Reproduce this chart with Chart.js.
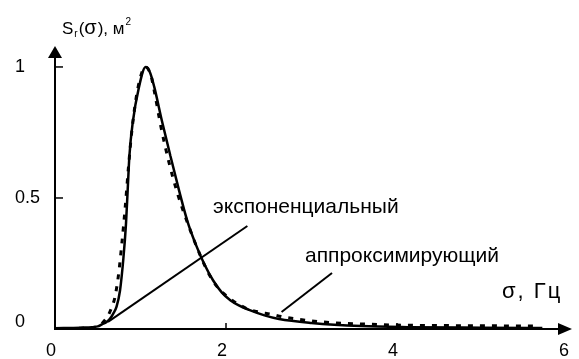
<!DOCTYPE html>
<html>
<head>
<meta charset="utf-8">
<script src="https://cdn.jsdelivr.net/npm/chart.js@4/dist/chart.umd.min.js"></script>
<style>
    html, body { margin: 0; padding: 0; background: #ffffff; }
    #wrap { width: 579px; height: 359px; }
</style>
</head>
<body>
<div id="wrap"><canvas id="spectrChart" width="579" height="359"></canvas></div>
<script>
// экспоненциальный спектр (сплошная линия)
const sigmaExp = [0, 0.3, 0.5, 0.55, 0.6, 0.64, 0.68, 0.72, 0.76, 0.8, 0.83, 0.85, 0.87, 0.91, 0.98, 1.06, 1.11, 1.16, 1.25, 1.35, 1.45, 1.55, 1.65, 1.75, 1.85, 1.95, 2.05, 2.15, 2.27, 2.45, 2.62, 3.0, 3.58, 4.13, 5.0, 5.7];
const valExp = [0.003, 0.005, 0.01, 0.018, 0.026, 0.038, 0.058, 0.085, 0.146, 0.27, 0.40, 0.53, 0.66, 0.79, 0.92, 1.0, 0.98, 0.925, 0.795, 0.66, 0.53, 0.41, 0.32, 0.245, 0.185, 0.14, 0.11, 0.09, 0.073, 0.052, 0.038, 0.023, 0.011, 0.007, 0.005, 0.004];

// аппроксимирующий спектр (пунктир)
const sigmaApp = [0, 0.3, 0.5, 0.56, 0.62, 0.66, 0.7, 0.74, 0.78, 0.82, 0.86, 0.9, 0.97, 1.06, 1.12, 1.16, 1.24, 1.33, 1.43, 1.55, 1.7, 1.8, 1.9, 2.03, 2.23, 2.38, 2.52, 2.67, 2.83, 3.0, 3.29, 3.6, 4.0, 4.6, 5.2, 5.62];
const valApp = [0.0, 0.003, 0.01, 0.025, 0.05, 0.08, 0.12, 0.2, 0.32, 0.46, 0.62, 0.76, 0.92, 1.0, 0.97, 0.91, 0.77, 0.64, 0.52, 0.405, 0.28, 0.21, 0.16, 0.12, 0.08, 0.065, 0.057, 0.046, 0.038, 0.031, 0.023, 0.019, 0.015, 0.013, 0.012, 0.011];

// выноски к подписям
const leaderExpX = [0.62, 2.25];
const leaderExpY = [0.027, 0.393];
const leaderAppX = [2.65, 3.24];
const leaderAppY = [0.065, 0.214];

// подписи осей
const xTicks = [0, 2, 4, 6];
const yTicks = [0, 0.5, 1];
const yTickLabels = ['0', '0.5', '1'];
const labelExp = 'экспоненциальный';
const labelApp = 'аппроксимирующий';

const FONT = 'Arial, "Liberation Sans", sans-serif';

function toPoints(xs, ys) {
    return xs.map((x, i) => ({ x: x, y: ys[i] }));
}

// оси со стрелками, засечки и все надписи
const osiPlugin = {
    id: 'osi',
    afterDatasetsDraw(chart) {
        const ctx = chart.ctx;
        const xs = chart.scales.x;
        const ys = chart.scales.y;
        const x0 = xs.getPixelForValue(0);
        const y0 = ys.getPixelForValue(0);
        const yTop = ys.getPixelForValue(ys.max);
        const xTip = xs.getPixelForValue(xs.max) + 4;

        ctx.save();
        ctx.strokeStyle = '#000';
        ctx.fillStyle = '#000';
        ctx.lineWidth = 2;

        // ось Y
        ctx.beginPath();
        ctx.moveTo(x0, y0);
        ctx.lineTo(x0, yTop + 8);
        ctx.stroke();
        ctx.beginPath();
        ctx.moveTo(x0, yTop);
        ctx.lineTo(x0 - 7, yTop + 12);
        ctx.lineTo(x0 + 7, yTop + 12);
        ctx.closePath();
        ctx.fill();

        // ось X
        ctx.beginPath();
        ctx.moveTo(x0 - 1, y0);
        ctx.lineTo(xTip - 8, y0);
        ctx.stroke();
        ctx.beginPath();
        ctx.moveTo(xTip, y0);
        ctx.lineTo(xTip - 14, y0 - 6);
        ctx.lineTo(xTip - 14, y0 + 6);
        ctx.closePath();
        ctx.fill();

        // засечки
        ctx.lineWidth = 1.5;
        yTicks.forEach(v => {
            if (v === 0) return;
            const py = ys.getPixelForValue(v);
            ctx.beginPath();
            ctx.moveTo(x0, py);
            ctx.lineTo(x0 + 8, py);
            ctx.stroke();
        });
        xTicks.forEach(v => {
            if (v === 0 || v === xs.max) return;
            const px = xs.getPixelForValue(v);
            ctx.beginPath();
            ctx.moveTo(px, y0);
            ctx.lineTo(px, y0 - 6);
            ctx.stroke();
        });

        // подписи делений
        ctx.font = '18px ' + FONT;
        ctx.textBaseline = 'middle';
        ctx.textAlign = 'center';
        xTicks.forEach(v => {
            ctx.fillText(String(v), xs.getPixelForValue(v) - 4, y0 + 22);
        });
        ctx.textAlign = 'left';
        yTicks.forEach((v, i) => {
            const py = Math.min(ys.getPixelForValue(v), y0 - 7);
            ctx.fillText(yTickLabels[i], 15, py);
        });

        // заголовок оси Y: S_r(σ), м²
        ctx.textBaseline = 'alphabetic';
        let cx = 62;
        ctx.font = '17px ' + FONT;
        ctx.fillText('S', cx, 34);
        cx += ctx.measureText('S').width + 1;
        ctx.font = '10px ' + FONT;
        ctx.fillText('r', cx, 37);
        cx += ctx.measureText('r').width + 1;
        ctx.font = '17px ' + FONT;
        ctx.fillText('(', cx, 34);
        cx += ctx.measureText('(').width;
        ctx.font = '20px ' + FONT;
        ctx.fillText('σ', cx, 34);
        cx += ctx.measureText('σ').width + 1;
        ctx.font = '17px ' + FONT;
        ctx.fillText('), м', cx, 34);
        cx += ctx.measureText('), м').width + 1;
        ctx.font = '10px ' + FONT;
        ctx.fillText('2', cx, 25);

        // подпись оси X
        ctx.font = '22px ' + FONT;
        ctx.letterSpacing = '2px';
        ctx.fillText('σ, Гц', 502, 298);
        ctx.letterSpacing = '0px';

        // подписи кривых
        ctx.font = '21px ' + FONT;
        ctx.fillText(labelExp, 213, 213);
        ctx.fillText(labelApp, 305, 262);

        ctx.restore();
    }
};

const canvas = document.getElementById('spectrChart');
const ctx = canvas.getContext('2d');

new Chart(ctx, {
    type: 'line',
    data: {
        datasets: [
            {
                label: labelApp,
                data: toPoints(sigmaApp, valApp),
                borderColor: '#000',
                borderWidth: 3,
                borderDash: [5, 7],
                cubicInterpolationMode: 'monotone',
                pointRadius: 0,
                fill: false
            },
            {
                label: labelExp,
                data: toPoints(sigmaExp, valExp),
                borderColor: '#000',
                borderWidth: 2.5,
                cubicInterpolationMode: 'monotone',
                pointRadius: 0,
                fill: false
            },
            {
                label: 'выноска 1',
                data: toPoints(leaderExpX, leaderExpY),
                borderColor: '#000',
                borderWidth: 2,
                tension: 0,
                pointRadius: 0
            },
            {
                label: 'выноска 2',
                data: toPoints(leaderAppX, leaderAppY),
                borderColor: '#000',
                borderWidth: 2,
                tension: 0,
                pointRadius: 0
            }
        ]
    },
    options: {
        responsive: false,
        devicePixelRatio: 1,
        animation: false,
        layout: {
            padding: { left: 55, right: 11, top: 46, bottom: 30 }
        },
        scales: {
            x: { type: 'linear', min: 0, max: 6, display: false },
            y: { type: 'linear', min: 0, max: 1.08, display: false }
        },
        plugins: {
            legend: { display: false },
            tooltip: { enabled: false }
        }
    },
    plugins: [osiPlugin]
});
</script>
</body>
</html>
